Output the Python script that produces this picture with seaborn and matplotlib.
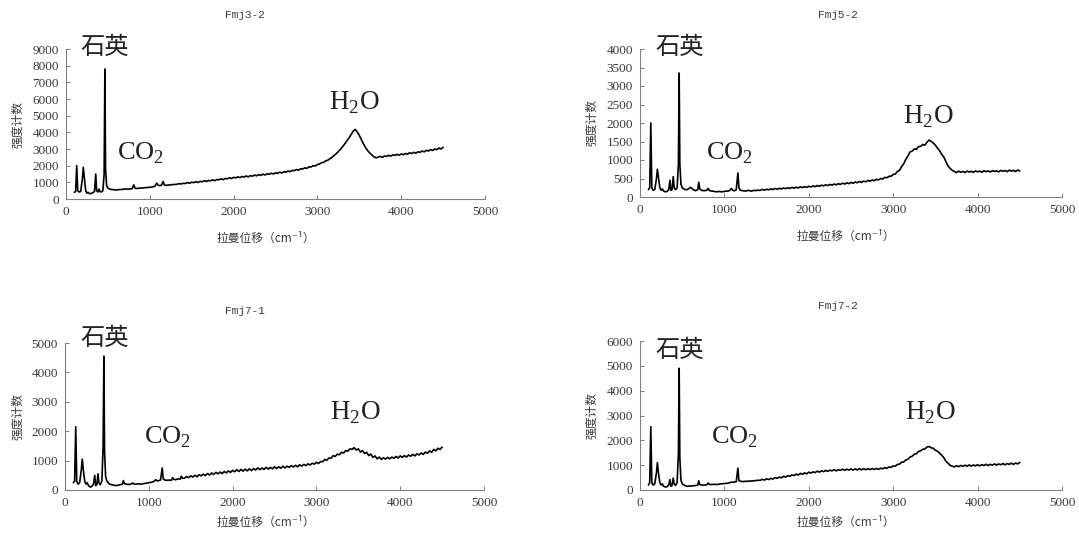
import numpy as np
import pandas as pd
import matplotlib
matplotlib.use("Agg")
import matplotlib.pyplot as plt
import seaborn as sns

# ---------------- data ----------------
TITLES = ["Fmj3-2", "Fmj5-2", "Fmj7-1", "Fmj7-2"]
Y_MAX = [9000, 4000, 5000, 6000]
Y_STEP = [1000, 500, 1000, 1000]
X_TICKS = [0, 1000, 2000, 3000, 4000, 5000]

# Raman shift sampling (cm-1): detailed low-shift region + regular high-shift region
X_LOW = [100, 115, 128, 140, 155, 175, 195, 206, 218, 235,
         250, 264, 280, 300, 320, 340, 355, 365, 380, 394,
         405, 420, 440, 455, 464, 472, 485, 500, 530, 560,
         600, 630, 660, 685, 696, 708, 730, 760, 790, 808,
         825, 850, 880, 910, 940, 970, 1000, 1030, 1060, 1083,
         1100, 1120, 1140, 1160, 1172, 1190, 1220, 1250, 1270, 1285,
         1300, 1320, 1350, 1375, 1388, 1400]
X_HIGH = list(range(1425, 4501, 25))

Y1_LOW = [400, 450, 2000, 500, 420, 450, 1200, 1900, 1300, 500,
          350, 400, 320, 330, 380, 450, 1500, 500, 420, 600,
          450, 420, 500, 1500, 7800, 1800, 800, 650, 580, 560,
          540, 560, 570, 580, 620, 600, 590, 600, 620, 850,
          640, 630, 660, 650, 680, 690, 700, 720, 760, 950,
          820, 800, 830, 1050, 850, 820, 830, 860, 850, 880,
          870, 880, 920, 900, 930, 940]
Y1_HIGH = [930, 990, 940, 1010, 980, 1040, 990, 1060, 1030, 1100, 1050, 1110,
           1090, 1150, 1100, 1170, 1150, 1210, 1160, 1230, 1210, 1280, 1230, 1300,
           1270, 1330, 1280, 1350, 1320, 1380, 1330, 1400, 1370, 1440, 1390, 1460,
           1420, 1490, 1440, 1510, 1480, 1550, 1500, 1570, 1540, 1610, 1560, 1630,
           1610, 1680, 1640, 1720, 1700, 1770, 1730, 1810, 1800, 1870, 1840, 1930,
           1920, 2000, 1980, 2070, 2100, 2180, 2200, 2290, 2330, 2420, 2500, 2620,
           2720, 2850, 2980, 3130, 3300, 3480, 3650, 3850, 4050, 4180, 4020, 3820,
           3560, 3300, 3080, 2900, 2760, 2640, 2530, 2470, 2510, 2560, 2500, 2580,
           2560, 2620, 2570, 2650, 2610, 2680, 2630, 2700, 2660, 2730, 2690, 2770,
           2730, 2800, 2750, 2830, 2800, 2880, 2830, 2920, 2880, 2960, 2910, 3000,
           2960, 3060, 3000, 3100]

Y2_LOW = [200, 250, 2000, 250, 180, 200, 500, 750, 550, 250,
          180, 220, 160, 140, 150, 200, 450, 180, 200, 550,
          250, 200, 250, 900, 3350, 900, 350, 250, 200, 200,
          260, 200, 170, 200, 400, 220, 180, 170, 180, 230,
          170, 160, 150, 140, 150, 140, 150, 160, 170, 230,
          180, 170, 190, 650, 250, 180, 170, 160, 170, 180,
          170, 160, 180, 170, 190, 180]
Y2_HIGH = [180, 205, 185, 210, 195, 220, 200, 230, 210, 235, 215, 245,
           225, 250, 230, 260, 240, 265, 245, 275, 255, 280, 260, 290,
           270, 300, 280, 310, 290, 320, 300, 330, 310, 340, 320, 350,
           330, 360, 340, 375, 350, 385, 360, 395, 370, 405, 385, 420,
           395, 430, 410, 450, 425, 460, 440, 480, 460, 500, 485, 530,
           520, 560, 560, 610, 620, 690, 720, 820, 900, 1020, 1110, 1220,
           1240, 1300, 1290, 1360, 1370, 1420, 1400, 1480, 1540, 1500, 1460, 1400,
           1320, 1250, 1150, 1080, 950, 840, 770, 720, 690, 660, 700, 670,
           690, 660, 700, 675, 695, 665, 705, 680, 700, 670, 710, 685,
           705, 675, 715, 690, 710, 680, 720, 695, 715, 685, 725, 700,
           720, 690, 730, 705]

Y3_LOW = [250, 300, 2150, 300, 200, 250, 700, 1050, 700, 300,
          200, 250, 150, 100, 120, 200, 500, 150, 180, 550,
          250, 180, 300, 1500, 4550, 1300, 450, 300, 200, 180,
          150, 160, 180, 200, 320, 220, 200, 190, 200, 240,
          200, 200, 210, 200, 220, 230, 250, 260, 290, 350,
          310, 320, 340, 750, 380, 340, 330, 340, 330, 420,
          360, 350, 380, 370, 470, 400]
Y3_HIGH = [400, 460, 420, 480, 440, 500, 450, 520, 480, 540, 490, 560,
           510, 580, 530, 600, 550, 610, 560, 630, 580, 650, 600, 670,
           620, 690, 630, 700, 640, 710, 650, 720, 660, 730, 680, 750,
           690, 750, 700, 770, 710, 770, 720, 790, 730, 790, 740, 810,
           750, 810, 770, 830, 780, 840, 790, 860, 810, 870, 830, 890,
           850, 910, 880, 940, 900, 970, 960, 1040, 1010, 1090, 1080, 1170,
           1140, 1220, 1200, 1280, 1260, 1340, 1320, 1400, 1380, 1440, 1360, 1400,
           1290, 1340, 1240, 1280, 1170, 1220, 1110, 1160, 1060, 1120, 1040, 1100,
           1050, 1110, 1060, 1120, 1080, 1140, 1090, 1160, 1110, 1170, 1120, 1190,
           1150, 1210, 1160, 1230, 1190, 1260, 1210, 1290, 1250, 1330, 1280, 1380,
           1330, 1420, 1380, 1460]

Y4_LOW = [200, 300, 2550, 300, 200, 250, 700, 1100, 700, 300,
          200, 250, 150, 120, 130, 200, 420, 150, 180, 480,
          250, 180, 300, 1500, 4900, 1300, 400, 250, 180, 150,
          160, 170, 180, 200, 370, 220, 200, 200, 210, 280,
          220, 220, 230, 220, 240, 250, 260, 270, 290, 320,
          310, 320, 340, 880, 380, 350, 340, 350, 350, 360,
          360, 360, 370, 380, 390, 390]
Y4_HIGH = [390, 430, 400, 450, 420, 470, 440, 500, 470, 520, 490, 550,
           520, 580, 550, 610, 580, 640, 600, 670, 630, 690, 650, 720,
           680, 730, 700, 760, 720, 770, 740, 790, 750, 800, 770, 820,
           770, 820, 790, 840, 790, 840, 800, 850, 800, 850, 810, 860,
           810, 860, 815, 860, 820, 865, 825, 870, 830, 880, 850, 900,
           870, 930, 910, 970, 960, 1030, 1040, 1120, 1130, 1210, 1240, 1330,
           1360, 1440, 1460, 1550, 1580, 1640, 1650, 1730, 1750, 1700, 1680, 1600,
           1560, 1480, 1400, 1300, 1160, 1080, 990, 960, 930, 980, 940, 990,
           950, 1000, 960, 1010, 960, 1010, 970, 1020, 970, 1020, 985, 1035,
           985, 1035, 1000, 1050, 1000, 1050, 1015, 1065, 1015, 1065, 1030, 1080,
           1030, 1085, 1050, 1110]

SERIES = [(Y1_LOW, Y1_HIGH), (Y2_LOW, Y2_HIGH), (Y3_LOW, Y3_HIGH), (Y4_LOW, Y4_HIGH)]

# annotation anchors (data coords) : quartz, CO2, H2O
ANN_QUARTZ = [(464, 9120), (474, 4054), (477, 5170), (474, 5638)]
ANN_CO2 = [(893, 2760), (1066, 1189), (1229, 1803), (1125, 2134)]
ANN_H2O = [(3440, 5760), (3412, 2162), (3460, 2619), (3436, 3101)]

# ---------------- style ----------------
sns.set_style("ticks")
plt.rcParams['font.family'] = ['Liberation Serif', 'Noto Sans CJK SC', 'DejaVu Sans']
plt.rcParams['mathtext.fontset'] = 'custom'
plt.rcParams['mathtext.rm'] = 'Liberation Serif'

W, H = 1079, 538
fig = plt.figure(figsize=(W / 100, H / 100), dpi=100)

# axes boxes in pixels: left, right, top, bottom
BOXES = [(66, 485, 49, 199), (640, 1062, 49, 197), (65, 484, 343, 490), (640, 1062, 341, 490)]
TITLE_POS = [(245, 15), (838, 15), (245, 311), (838, 306)]
YLAB_X = [18, 592, 18, 592]
XLAB_Y = [238, 236, 522, 522]
XLAB_X = [266, 846, 266, 846]

CJK = ['Noto Sans CJK SC', 'DejaVu Sans']
GREY = '#808080'
TXT = '#3a3a3a'

for i in range(4):
    l, r, t, b = BOXES[i]
    ax = fig.add_axes([l / W, 1 - b / H, (r - l) / W, (b - t) / H])
    x = X_LOW + X_HIGH
    y = SERIES[i][0] + SERIES[i][1]
    df = pd.DataFrame({"shift": x, "count": y})
    sns.lineplot(data=df, x="shift", y="count", ax=ax, color='black',
                 linewidth=1.2, sort=False, estimator=None)
    ax.set_xlim(0, 5000)
    ax.set_ylim(0, Y_MAX[i])
    ax.set_xticks(X_TICKS)
    ax.set_yticks(np.arange(0, Y_MAX[i] + 1, Y_STEP[i]))
    for s in ['top', 'right']:
        ax.spines[s].set_visible(False)
    for s in ['left', 'bottom']:
        ax.spines[s].set_color(GREY)
        ax.spines[s].set_linewidth(0.8)
    ax.tick_params(direction='in', length=3, width=0.7, color=GREY,
                   labelsize=9.5, labelcolor=TXT, pad=5)
    ax.set_xlabel("")
    ax.set_ylabel("")
    # axis labels
    fig.text(YLAB_X[i] / W, 1 - ((t + b) / 2) / H, "强度计数", rotation=90,
             ha='center', va='center', fontsize=8.5, color=TXT, family=CJK)
    fig.text(XLAB_X[i] / W, 1 - XLAB_Y[i] / H, "拉曼位移（cm⁻¹）",
             ha='center', va='center', fontsize=8.5, color=TXT, family=CJK)
    fig.text(TITLE_POS[i][0] / W, 1 - TITLE_POS[i][1] / H, TITLES[i],
             ha='center', va='center', fontsize=8, color=TXT, family='Liberation Mono')
    # annotations
    qx, qy = ANN_QUARTZ[i]
    ax.text(qx, qy, "石英", ha='center', va='center', fontsize=17.5,
            family=CJK, color='#222222', clip_on=False)
    cx, cy = ANN_CO2[i]
    ax.text(cx, cy, r"CO$_\mathregular{2}$", ha='center', va='center', fontsize=19,
            family='Liberation Serif', color='#222222', clip_on=False)
    hx, hy = ANN_H2O[i]
    ax.text(hx, hy, r"H$_\mathregular{2}$O", ha='center', va='center', fontsize=19.5,
            family='Liberation Serif', color='#222222', clip_on=False)

fig.savefig("out.png", dpi=100)
